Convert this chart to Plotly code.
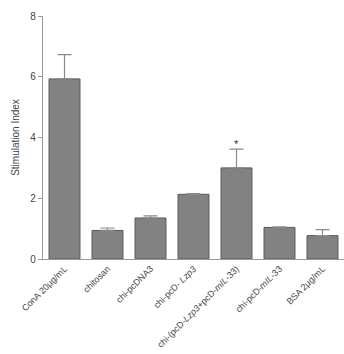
import plotly.graph_objects as go

categories = ["ConA 20μg/mL", "chitosan", "chi-pcDNA3", "chi-pcD- <i>Lzp3</i>",
              "chi-(pcD-<i>Lzp3</i>+pcD-<i>mIL</i>-33)", "chi-pcD-<i>mIL</i>-33", "BSA 2μg/mL"]
values = [5.93, 0.94, 1.35, 2.13, 3.0, 1.04, 0.77]
errors = [0.80, 0.08, 0.07, 0.02, 0.62, 0.02, 0.20]
y_ticks = [0, 2, 4, 6, 8]

fig = go.Figure()
fig.add_trace(go.Bar(
    x=categories, y=values,
    marker=dict(color="#828282", line=dict(color="#5a5a5a", width=1)),
    error_y=dict(type="data", array=errors, symmetric=False, arrayminus=[0]*len(errors),
                 color="#8a8a8a", thickness=1.2, width=7),
))
fig.add_annotation(x=categories[4], y=values[4] + errors[4], text="*",
                   showarrow=False, font=dict(size=11, color="#333"), yanchor="bottom",
                   yshift=-3)

fig.update_layout(
    width=344, height=354,
    margin=dict(l=43, r=0, t=16, b=95),
    paper_bgcolor="white", plot_bgcolor="white",
    bargap=0.28, showlegend=False,
    font=dict(family="Liberation Sans, Arial, sans-serif", color="#444"),
)
fig.update_xaxes(
    showline=True, linecolor="#999", linewidth=1.2, ticks="",
    tickangle=-45, tickfont=dict(size=9, color="#444"),
)
fig.update_yaxes(
    range=[0, 8], tickvals=y_ticks, showline=True, linecolor="#999", linewidth=1.2,
    ticks="outside", ticklen=4, tickcolor="#999", showgrid=False, zeroline=False,
    tickfont=dict(size=10, color="#444"),
    title=dict(text="Stimulation Index", font=dict(size=10, color="#444"), standoff=8),
)
fig.write_html("out.html")
